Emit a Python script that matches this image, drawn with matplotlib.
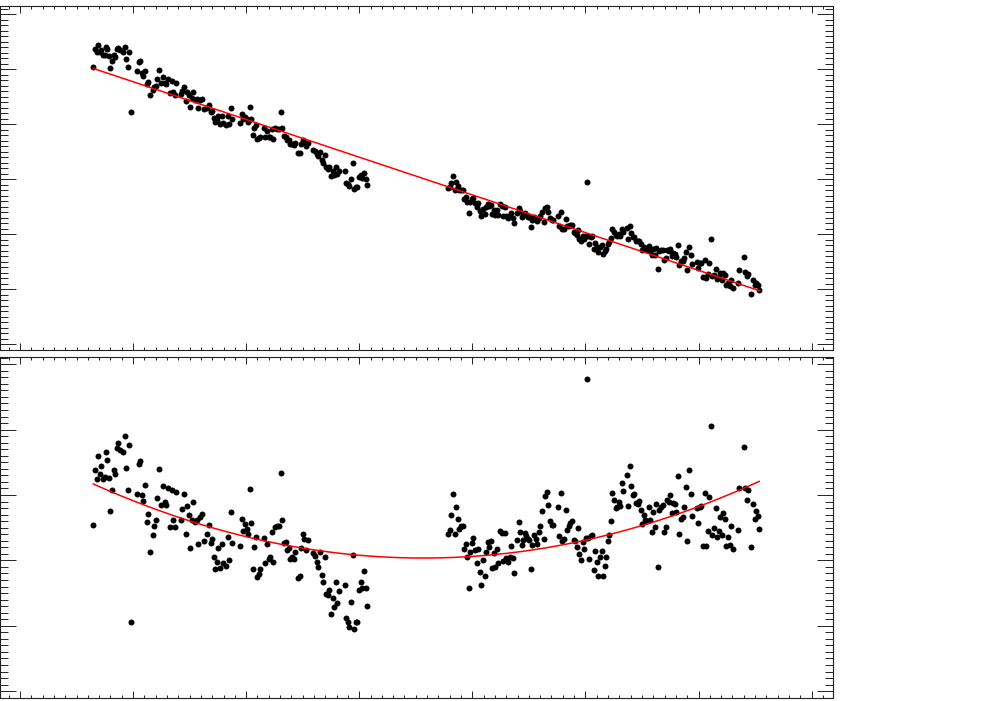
import numpy as np
import matplotlib
matplotlib.use("Agg")
import matplotlib.pyplot as plt
from matplotlib.ticker import MultipleLocator, NullFormatter

# first observing block: time (days) and flux
t_first = [
    6.48, 6.60, 6.78, 6.90, 7.05, 7.16, 7.34, 7.52, 7.60, 7.72,
    7.87, 7.98, 8.16, 8.28, 8.43, 8.58, 8.69, 8.87, 9.08, 9.26,
    9.40, 9.52, 9.66, 9.79, 10.35, 10.50, 10.64, 10.79, 10.90, 11.05,
    11.23, 11.34, 11.47, 11.76, 11.87, 12.03, 12.14, 12.29, 12.47, 12.64,
    12.79, 12.94, 13.11, 13.26, 13.41, 13.55, 13.71, 13.82, 14.24, 14.35,
    14.50, 14.65, 14.79, 14.94, 15.06, 15.18, 15.32, 15.47, 15.62, 15.77,
    15.92, 16.07, 16.30, 16.53, 16.71, 16.86, 16.98, 17.13, 17.27, 17.42,
    17.53, 17.68, 17.83, 17.95,
    18.21, 18.37, 18.48, 18.63, 18.77, 19.45, 19.60, 19.74, 19.87, 20.04,
    20.19, 20.31, 20.43, 20.58, 20.72, 20.84, 20.98, 21.11, 21.25, 21.55,
    21.69, 21.84, 21.99, 22.11, 22.26, 22.40, 22.55, 22.75, 22.90, 23.05,
    23.19, 23.34, 23.49, 23.63, 23.79, 23.90, 24.05, 24.25, 24.34, 24.61,
    24.73, 24.87, 25.00, 25.14, 25.29, 25.44, 25.93, 26.08, 26.23, 26.38,
    26.53, 26.68, 26.82, 26.94, 27.06, 27.21, 27.35, 27.50, 27.65, 27.79,
    27.91, 28.03, 28.18, 28.74, 28.85, 28.98, 29.12, 29.27, 29.42, 29.56,
    29.71, 29.82, 29.97, 30.12, 30.27, 30.42, 30.57, 30.68,
]
flux_first = [
    1.2519, 1.2685, 1.2652, 1.2718, 1.2657, 1.2677, 1.2631, 1.2630, 1.2704, 1.2678,
    1.2617, 1.2512, 1.2571, 1.2627, 1.2610, 1.2684, 1.2694, 1.2669, 1.2654, 1.2696,
    1.2593, 1.2522, 1.2655, 1.2109, 1.2482, 1.2568, 1.2574, 1.2465, 1.2441, 1.2485,
    1.2367, 1.2386, 1.2267, 1.2309, 1.2333, 1.2345, 1.2409, 1.2492, 1.2377, 1.2428,
    1.2374, 1.2361, 1.2407, 1.2281, 1.2390, 1.2292, 1.2267, 1.2369, 1.2269, 1.2299,
    1.2339, 1.2212, 1.2294, 1.2260, 1.2156, 1.2237, 1.2289, 1.2221, 1.2223, 1.2143,
    1.2221, 1.2226, 1.2135, 1.2148, 1.2169, 1.2109, 1.2118, 1.2057, 1.2016, 1.2033,
    1.2070, 1.2004, 1.2074, 1.2010,
    1.1992, 1.2075, 1.2001, 1.2143, 1.2044, 1.2010, 1.2089, 1.2047, 1.2065, 1.2043,
    1.2022, 1.2156, 1.2048, 1.1902, 1.1965, 1.1992, 1.1864, 1.1870, 1.1880, 1.1964,
    1.1884, 1.1934, 1.1883, 1.1885, 1.1957, 1.1860, 1.1963, 1.1958, 1.1953, 1.2112,
    1.1964, 1.1887, 1.1885, 1.1857, 1.1856, 1.1820, 1.1820, 1.1808, 1.1825, 1.1738,
    1.1740, 1.1819, 1.1859, 1.1838, 1.1798, 1.1823, 1.1768, 1.1752, 1.1729, 1.1708,
    1.1749, 1.1674, 1.1649, 1.1720, 1.1605, 1.1595, 1.1605, 1.1526, 1.1571, 1.1539,
    1.1610, 1.1544, 1.1573, 1.1573, 1.1468, 1.1453, 1.1433, 1.1502, 1.1643, 1.1411,
    1.1427, 1.1423, 1.1515, 1.1536, 1.1511, 1.1558, 1.1500, 1.1444,
]

# second observing block
t_second = [
    37.84, 37.99, 38.14, 38.29, 38.44, 38.55, 38.70, 38.84, 38.99, 39.14,
    39.26, 39.41, 39.55, 39.67, 39.82, 39.97, 40.08, 40.23, 40.38, 40.50,
    40.65, 40.79, 40.94, 41.09, 41.23, 41.35, 41.50, 41.62, 41.76, 41.91,
    42.03, 42.18, 42.29, 42.44, 42.59, 42.73, 42.86, 43.00, 43.15, 43.30,
    43.41, 43.56, 43.68, 43.97, 44.10, 44.24, 44.36, 44.50, 44.65, 44.77,
    44.92, 45.03, 45.18, 45.30, 45.45, 45.60, 45.74, 45.86, 46.00, 46.16,
    46.31, 46.45, 46.57, 46.71, 46.86, 47.01, 47.15, 47.54, 47.69, 47.81,
    47.95, 48.10, 48.25, 48.39, 48.52, 48.66, 48.81, 48.96, 49.07, 49.22,
    49.34, 49.45, 49.60, 49.75, 49.90, 50.05, 50.13, 50.20, 50.34, 50.46,
    50.60, 50.75, 50.87, 51.02, 51.13, 51.28, 51.43, 51.58, 51.70,
    51.84, 51.96, 52.11, 52.23, 52.37, 52.52, 52.67, 52.81, 52.96, 53.08,
    53.23, 53.34, 53.64, 53.76, 53.91, 54.05, 54.17, 54.32, 54.47, 54.62,
    54.73, 54.88, 55.02, 55.17, 55.29, 55.44, 55.59, 55.70, 55.85, 55.97,
    56.12, 56.26, 56.39, 56.53, 56.68, 56.83, 56.94, 57.09, 57.23, 57.36,
    57.50, 57.65, 57.76, 57.92, 58.03, 58.18, 58.29, 58.45, 58.60, 58.74,
    58.89, 59.00, 59.15, 59.30, 59.45, 59.86, 59.98, 60.13, 60.24, 60.39,
    60.54, 60.68, 60.81, 60.95, 61.07, 61.21, 61.36, 61.51, 61.63, 61.78,
    61.92, 62.07, 62.19, 62.34, 62.45, 62.60, 62.75, 62.89, 63.04, 63.46,
    63.60, 63.99, 64.13, 64.26, 64.40, 64.66, 64.81, 64.96, 65.08, 65.23,
    65.37,
]
flux_second = [
    1.1418, 1.1424, 1.1464, 1.1525, 1.1396, 1.1477, 1.1434, 1.1397, 1.1402, 1.1396,
    1.1322, 1.1334, 1.1287, 1.1188, 1.1293, 1.1317, 1.1329, 1.1286, 1.1243, 1.1280,
    1.1206, 1.1160, 1.1231, 1.1178, 1.1246, 1.1272, 1.1252, 1.1266, 1.1179, 1.1221,
    1.1173, 1.1222, 1.1177, 1.1269, 1.1256, 1.1166, 1.1249, 1.1168, 1.1150, 1.1160,
    1.1190, 1.1147, 1.1097, 1.1189, 1.1240, 1.1205, 1.1159, 1.1171, 1.1187, 1.1173,
    1.1158, 1.1151, 1.1060, 1.1128, 1.1153, 1.1135, 1.1115, 1.1148, 1.1163, 1.1201,
    1.1111, 1.1239, 1.1246, 1.1202, 1.1149, 1.1131, 1.1127, 1.1167, 1.1073, 1.1200,
    1.1049, 1.1049, 1.1135, 1.1069, 1.1076, 1.1080, 1.1082, 1.1019, 1.1010, 1.0988,
    1.1040, 1.0957, 1.0934, 1.0985, 1.0958, 1.0985, 1.1469, 1.0982, 1.0913, 1.0977,
    1.0978, 1.0863, 1.0920, 1.0879, 1.0833, 1.0886, 1.0900, 1.0818, 1.0843,
    1.0866, 1.0911, 1.0926, 1.0965, 1.1045, 1.1018, 1.0987, 1.0986, 1.0998, 1.0979,
    1.1046, 1.1018, 1.1055, 1.0956, 1.1075, 1.1009, 1.0976, 1.0974, 1.0941, 1.0935,
    1.0938, 1.0907, 1.0859, 1.0880, 1.0862, 1.0854, 1.0892, 1.0848, 1.0806, 1.0862,
    1.0813, 1.0876, 1.0681, 1.0850, 1.0853, 1.0855, 1.0767, 1.0780, 1.0857, 1.0846,
    1.0861, 1.0801, 1.0830, 1.0819, 1.0793, 1.0898, 1.0717, 1.0756, 1.0758, 1.0783,
    1.0839, 1.0670, 1.0883, 1.0805, 1.0730, 1.0742, 1.0692, 1.0734, 1.0736, 1.0607,
    1.0764, 1.0597, 1.0639, 1.0739, 1.0952, 1.0614, 1.0629, 1.0686, 1.0593, 1.0606,
    1.0644, 1.0584, 1.0648, 1.0623, 1.0537, 1.0558, 1.0529, 1.0583, 1.0506, 1.0551,
    1.0676, 1.0787, 1.0655, 1.0615, 1.0641, 1.0457, 1.0585, 1.0533, 1.0555, 1.0533,
    1.0487,
]

t = np.concatenate([t_first, t_second])
flux = np.concatenate([flux_first, flux_second])

# linear trend, then quadratic fit to what is left
p_lin = np.polyfit(t, flux, 1)
resid = flux - np.polyval(p_lin, t)
p_quad = np.polyfit(t, resid, 2)
tt = np.linspace(t.min(), t.max(), 400)

fig = plt.figure(figsize=(9.81, 7.01), dpi=100)
ax1 = fig.add_axes([0.0, 0.5007, 0.8491, 0.4907])
ax2 = fig.add_axes([0.0, 0.0043, 0.8491, 0.4864])

ax1.plot(t, flux, 'o', color='black', ms=4.3, mec='none')
ax1.plot([t.min(), t.max()], np.polyval(p_lin, [t.min(), t.max()]), color='red', lw=1.1)

ax2.plot(t, resid, 'o', color='black', ms=4.3, mec='none')
ax2.plot(tt, np.polyval(p_quad, tt), color='red', lw=1.1)

ax1.set_ylim(0.99455, 1.30727)
ax1.yaxis.set_major_locator(MultipleLocator(0.05))
ax1.yaxis.set_minor_locator(MultipleLocator(0.005))

ax2.set_ylim(-0.05138, 0.05290)
ax2.yaxis.set_major_locator(MultipleLocator(0.02, offset=0.0107))
ax2.yaxis.set_minor_locator(MultipleLocator(0.002, offset=0.0007))

for ax in (ax1, ax2):
    ax.set_xlim(-1.768, 71.89)
    ax.xaxis.set_major_locator(MultipleLocator(10))
    ax.xaxis.set_minor_locator(MultipleLocator(1))
    ax.tick_params(which='both', direction='in', top=True, right=True,
                   labelbottom=False, labelleft=False, width=0.7, color='#222222')
    ax.tick_params(axis='x', which='major', length=5.0)
    ax.tick_params(axis='x', which='minor', length=2.5)
    ax.tick_params(axis='y', which='major', length=11.5)
    ax.tick_params(axis='y', which='minor', length=5.8)
    ax.xaxis.set_major_formatter(NullFormatter())
    ax.yaxis.set_major_formatter(NullFormatter())
    for s in ax.spines.values():
        s.set_linewidth(0.8)
        s.set_color('#222222')

fig.savefig('out.png', dpi=100)
